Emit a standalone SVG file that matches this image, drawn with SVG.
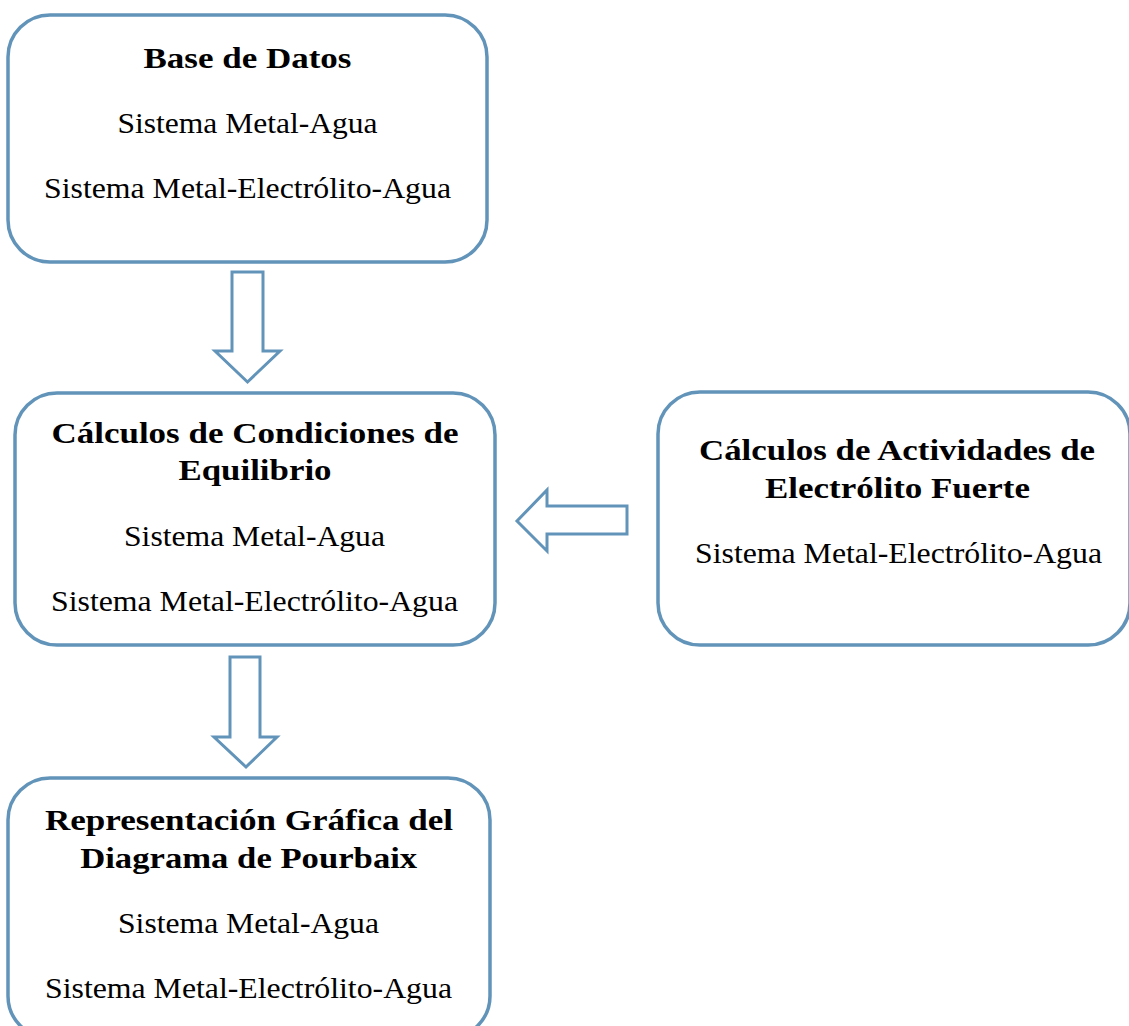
<svg xmlns="http://www.w3.org/2000/svg" width="1129" height="1026" viewBox="0 0 1129 1026">
<style>
.box{fill:#ffffff;stroke:#6294ba;stroke-width:3.5}
.arr{fill:#ffffff;stroke:#6294ba;stroke-width:3;stroke-linejoin:miter}
text{font-family:"Liberation Serif","Times New Roman",serif;font-size:30px;fill:#000;text-anchor:middle}
.t{font-weight:bold}
</style>
<rect width="1129" height="1026" fill="#ffffff"/>
<g id="connectors">
<polygon class="arr" points="232,272 263,272 263,351 280,351 247.5,382 215,351 232,351"/>
<polygon class="arr" points="230,657 260,657 260,737 277,737 246,767 214,737 230,737"/>
<polygon class="arr" points="627,506 627,534 547,534 547,551 517,521 547,490 547,506"/>
</g>
<g id="node-base-datos">
<rect class="box" x="8" y="15" width="479" height="247" rx="42"/>
<text class="t" x="247.5" y="68" textLength="208" lengthAdjust="spacingAndGlyphs">Base de Datos</text>
<text x="247.5" y="133" textLength="260" lengthAdjust="spacingAndGlyphs">Sistema Metal-Agua</text>
<text x="247.5" y="198" textLength="407" lengthAdjust="spacingAndGlyphs">Sistema Metal-Electrólito-Agua</text>
</g>
<g id="node-calculos-equilibrio">
<rect class="box" x="15" y="393" width="480" height="252" rx="42"/>
<text class="t" x="255" y="443" textLength="407" lengthAdjust="spacingAndGlyphs">Cálculos de Condiciones de</text>
<text class="t" x="255" y="480" textLength="153" lengthAdjust="spacingAndGlyphs">Equilibrio</text>
<text x="254.5" y="546" textLength="261" lengthAdjust="spacingAndGlyphs">Sistema Metal-Agua</text>
<text x="254.5" y="611" textLength="407" lengthAdjust="spacingAndGlyphs">Sistema Metal-Electrólito-Agua</text>
</g>
<g id="node-calculos-actividades">
<rect class="box" x="658" y="392" width="472" height="253" rx="42"/>
<text class="t" x="897" y="460" textLength="396" lengthAdjust="spacingAndGlyphs">Cálculos de Actividades de</text>
<text class="t" x="897.5" y="498" textLength="265" lengthAdjust="spacingAndGlyphs">Electrólito Fuerte</text>
<text x="898.5" y="563" textLength="407" lengthAdjust="spacingAndGlyphs">Sistema Metal-Electrólito-Agua</text>
</g>
<g id="node-representacion">
<rect class="box" x="8" y="778" width="482" height="260" rx="42"/>
<text class="t" x="249" y="830" textLength="408" lengthAdjust="spacingAndGlyphs">Representación Gráfica del</text>
<text class="t" x="248.7" y="868" textLength="337" lengthAdjust="spacingAndGlyphs">Diagrama de Pourbaix</text>
<text x="248.5" y="933" textLength="261" lengthAdjust="spacingAndGlyphs">Sistema Metal-Agua</text>
<text x="248.5" y="998" textLength="407" lengthAdjust="spacingAndGlyphs">Sistema Metal-Electrólito-Agua</text>
</g>
</svg>
